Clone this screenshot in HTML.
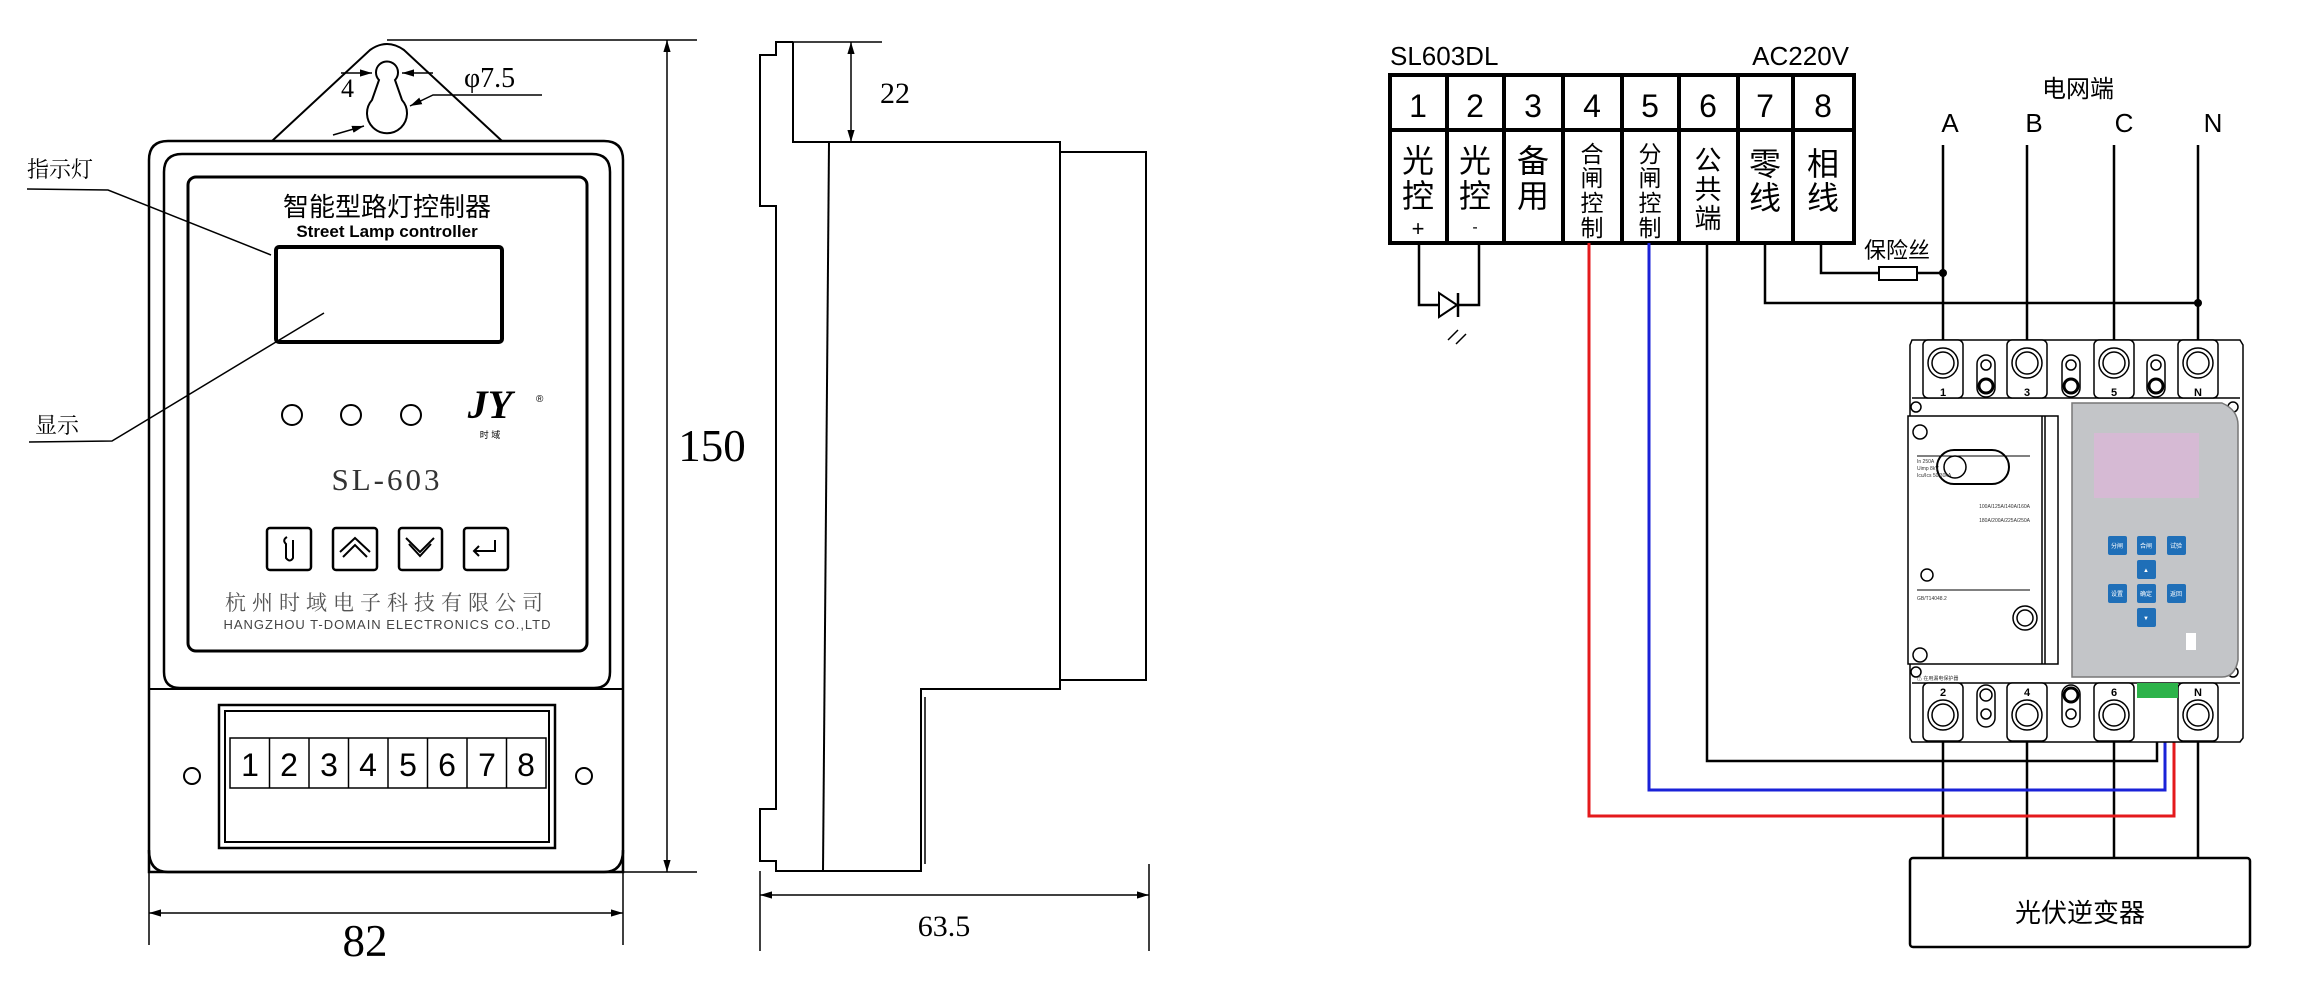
<!DOCTYPE html>
<html><head><meta charset="utf-8"><style>
html,body{margin:0;padding:0;background:#fff}
svg{display:block}
text{font-family:"Liberation Sans","Noto Sans CJK SC",sans-serif}
.serif{font-family:"Liberation Serif","Noto Serif CJK SC",serif}
</style></head><body>
<svg width="2320" height="1007" viewBox="0 0 2320 1007" xmlns="http://www.w3.org/2000/svg">
<defs>
<marker id="ar" viewBox="0 0 10 10" refX="10" refY="5" markerWidth="8" markerHeight="8" orient="auto-start-reverse"><path d="M0,2 L10,5 L0,8 z" fill="#000"/></marker>
</defs>
<g fill="none" stroke="#000" stroke-width="2">
<!-- hanger -->
<path d="M272,141 L370,50 Q387,38 404,50 L502,141"/>
<line x1="387" y1="40" x2="697" y2="40" stroke-width="1.5"/>
<path d="M379,80 A11,11 0 1 1 395,80 L402,100 A20,20 0 1 1 372,100 Z"/>
<!-- outer body -->
<path d="M149,160 Q149,141 168,141 L604,141 Q623,141 623,160 L623,872 L149,872 Z" stroke-width="2.5"/>
<path d="M164,672 L164,172 Q164,154 182,154 L592,154 Q610,154 610,172 L610,672 Q610,688 594,688 L180,688 Q164,688 164,672 Z" stroke-width="2.5"/>
<line x1="149" y1="689" x2="623" y2="689" stroke-width="2"/>
<path d="M149,850 Q149,872 168,872 L604,872 Q623,872 623,850" stroke-width="2.5"/>
<rect x="188" y="177" width="399" height="474" rx="8" stroke-width="3"/>
<rect x="276" y="247" width="226" height="95" rx="3" stroke-width="4"/>
<!-- leaders -->
<polyline points="27,189 108,190 271,255" stroke-width="1.5"/>
<polyline points="29,442 112,441 324,313" stroke-width="1.5"/>
<!-- LEDs -->
<circle cx="292" cy="415" r="10"/><circle cx="351" cy="415" r="10"/><circle cx="411" cy="415" r="10"/>
<!-- buttons -->
<rect x="267" y="528" width="44" height="42" rx="3" stroke-width="2.5"/>
<rect x="333" y="528" width="44" height="42" rx="3" stroke-width="2.5"/>
<rect x="399" y="528" width="43" height="42" rx="3" stroke-width="2.5"/>
<rect x="464" y="528" width="44" height="42" rx="3" stroke-width="2.5"/>
<path d="M287,537 Q282,540 286,544 L286,558 Q290,563 293,558 L293,540"/>
<polyline points="340,552 355,538 370,552"/><polyline points="343,557 355,545 367,557"/>
<polyline points="406,538 420,552 434,538"/><polyline points="409,544 420,556 431,544"/>
<polyline points="495,540 495,551 474,551"/><polyline points="479,546 474,551 479,556"/>
<!-- terminal block -->
<rect x="219" y="705" width="336" height="143" stroke-width="2.5"/>
<rect x="225" y="711" width="324" height="131"/>
<rect x="230" y="738" width="316" height="50" stroke-width="1.5"/>
<g stroke-width="1.5">
<line x1="269.5" y1="738" x2="269.5" y2="788"/><line x1="309" y1="738" x2="309" y2="788"/><line x1="348.5" y1="738" x2="348.5" y2="788"/><line x1="388" y1="738" x2="388" y2="788"/><line x1="427.5" y1="738" x2="427.5" y2="788"/><line x1="467" y1="738" x2="467" y2="788"/><line x1="506.5" y1="738" x2="506.5" y2="788"/>
</g>
<circle cx="192" cy="776" r="8"/><circle cx="584" cy="776" r="8"/>
<!-- dims left -->
<line x1="667" y1="40" x2="667" y2="872" stroke-width="1.5" marker-start="url(#ar)" marker-end="url(#ar)"/>
<line x1="623" y1="872" x2="697" y2="872" stroke-width="1.5"/>
<line x1="149" y1="913" x2="623" y2="913" stroke-width="1.5" marker-start="url(#ar)" marker-end="url(#ar)"/>
<line x1="149" y1="858" x2="149" y2="945" stroke-width="1.5"/><line x1="623" y1="858" x2="623" y2="945" stroke-width="1.5"/>
<line x1="341" y1="73" x2="372" y2="73" stroke-width="1.5" marker-end="url(#ar)"/>
<line x1="433" y1="73" x2="402" y2="73" stroke-width="1.5" marker-end="url(#ar)"/>
<polyline points="542,95 433,95 410,106" stroke-width="1.5" marker-end="url(#ar)"/>
<line x1="333" y1="135" x2="364" y2="126" stroke-width="1.5" marker-end="url(#ar)"/>
<!-- side view -->
<polyline points="793,42 776,42 776,55 760,55 760,206 776,206 776,809 760,809 760,861 776,861 776,871 921,871 921,689 1060,689 1060,142 793,142 793,42" stroke-width="2"/>
<line x1="793" y1="42" x2="882" y2="42" stroke-width="1.5"/>
<rect x="1060" y="152" width="86" height="528" stroke-width="2"/>
<line x1="829" y1="142" x2="823" y2="871" stroke-width="2"/>
<line x1="925" y1="697" x2="925" y2="864" stroke-width="1.5"/>
<line x1="851" y1="42" x2="851" y2="142" stroke-width="1.5" marker-start="url(#ar)" marker-end="url(#ar)"/>
<line x1="760" y1="895" x2="1149" y2="895" stroke-width="1.5" marker-start="url(#ar)" marker-end="url(#ar)"/>
<line x1="760" y1="871" x2="760" y2="951" stroke-width="1.5"/><line x1="1149" y1="864" x2="1149" y2="951" stroke-width="1.5"/>
</g>
<!-- left texts -->
<g fill="#000">
<text x="387" y="216" font-size="26" text-anchor="middle">智能型路灯控制器</text>
<text x="387" y="237" font-size="17" font-weight="bold" text-anchor="middle">Street Lamp controller</text>
<text x="27" y="177" font-size="22" class="serif">指示灯</text>
<text x="35" y="433" font-size="22" class="serif">显示</text>
<text x="387" y="490" font-size="31" text-anchor="middle" class="serif" fill="#333" letter-spacing="3">SL-603</text>
<text x="490" y="418" font-size="40" font-weight="bold" font-style="italic" text-anchor="middle" class="serif">JY</text>
<text x="490" y="438" font-size="9" text-anchor="middle">时 域</text>
<text x="536" y="402" font-size="10">®</text>
<text x="387" y="610" font-size="21" text-anchor="middle" fill="#555" class="serif" letter-spacing="6">杭州时域电子科技有限公司</text>
<text x="387" y="629" font-size="13" text-anchor="middle" fill="#444" textLength="327">HANGZHOU T-DOMAIN ELECTRONICS CO.,LTD</text>
<g font-size="32" text-anchor="middle">
<text x="250" y="776">1</text><text x="289" y="776">2</text><text x="329" y="776">3</text><text x="368" y="776">4</text><text x="408" y="776">5</text><text x="447" y="776">6</text><text x="487" y="776">7</text><text x="526" y="776">8</text>
</g>
<text x="712" y="461" font-size="45" text-anchor="middle" class="serif">150</text>
<text x="365" y="956" font-size="45" text-anchor="middle" class="serif">82</text>
<text x="341" y="97" font-size="26" class="serif">4</text>
<text x="464" y="87" font-size="28" class="serif">φ7.5</text>
<text x="880" y="103" font-size="30" class="serif">22</text>
<text x="944" y="936" font-size="30" text-anchor="middle" class="serif">63.5</text>
</g>

<!-- wiring diagram -->
<g fill="none" stroke="#000">
<rect x="1390" y="75" width="464" height="168" stroke-width="4"/>
<line x1="1390" y1="130" x2="1854" y2="130" stroke-width="4"/>
<g stroke-width="4">
<line x1="1447" y1="75" x2="1447" y2="243"/><line x1="1504" y1="75" x2="1504" y2="243"/><line x1="1563" y1="75" x2="1563" y2="243"/><line x1="1622" y1="75" x2="1622" y2="243"/><line x1="1679" y1="75" x2="1679" y2="243"/><line x1="1738" y1="75" x2="1738" y2="243"/><line x1="1793" y1="75" x2="1793" y2="243"/>
</g>
<g stroke-width="2.5">
<polyline points="1419,243 1419,305 1439,305"/>
<polyline points="1459,305 1479,305 1479,243"/>
<polyline points="1707,243 1707,761 2157,761 2157,693"/>
<polyline points="1765,243 1765,303 2198,303"/>
<polyline points="1821,243 1821,273 1879,273"/>
<line x1="1917" y1="273" x2="1943" y2="273"/>
<line x1="1943" y1="145" x2="1943" y2="340"/><line x1="2027" y1="145" x2="2027" y2="340"/><line x1="2114" y1="145" x2="2114" y2="340"/><line x1="2198" y1="145" x2="2198" y2="340"/>
<line x1="1943" y1="742" x2="1943" y2="858"/><line x1="2027" y1="742" x2="2027" y2="858"/><line x1="2114" y1="742" x2="2114" y2="858"/><line x1="2198" y1="742" x2="2198" y2="858"/>
</g>
<polyline points="1649,243 1649,790 2165,790 2165,696" stroke="#1a22d8" stroke-width="3"/>
<polyline points="1589,243 1589,816 2174,816 2174,696" stroke="#e41a1c" stroke-width="3"/>
<rect x="1879" y="267" width="38" height="13" stroke-width="2"/>
<path d="M1439,293 L1439,317 L1457,305 Z" stroke-width="2"/>
<line x1="1458" y1="293" x2="1458" y2="317" stroke-width="2.5"/>
<line x1="1458" y1="330" x2="1448" y2="340" stroke-width="1.5"/><line x1="1466" y1="334" x2="1456" y2="344" stroke-width="1.5"/>
<rect x="1910" y="858" width="340" height="89" rx="3" stroke-width="2.5"/>
</g>
<circle cx="1943" cy="273" r="4"/><circle cx="2198" cy="303" r="4"/>
<g fill="#000">
<text x="1390" y="65" font-size="26">SL603DL</text>
<text x="1849" y="65" font-size="26" text-anchor="end">AC220V</text>
<g font-size="32" text-anchor="middle">
<text x="1418" y="117">1</text><text x="1475" y="117">2</text><text x="1533" y="117">3</text><text x="1592" y="117">4</text><text x="1650" y="117">5</text><text x="1708" y="117">6</text><text x="1765" y="117">7</text><text x="1823" y="117">8</text>
<text x="1418" y="172">光</text><text x="1418" y="207">控</text>
<text x="1475" y="172">光</text><text x="1475" y="207">控</text>
<text x="1533" y="172">备</text><text x="1533" y="207">用</text>
<text x="1765" y="175">零</text><text x="1765" y="209">线</text>
<text x="1823" y="175">相</text><text x="1823" y="209">线</text>
</g>
<text x="1418" y="236" font-size="22" text-anchor="middle">+</text>
<text x="1475" y="232" font-size="16" text-anchor="middle">-</text>
<g font-size="23" text-anchor="middle">
<text x="1592" y="162">合</text><text x="1592" y="186">闸</text><text x="1592" y="211">控</text><text x="1592" y="236">制</text>
<text x="1650" y="162">分</text><text x="1650" y="186">闸</text><text x="1650" y="211">控</text><text x="1650" y="236">制</text>
</g>
<g font-size="27" text-anchor="middle">
<text x="1708" y="170">公</text><text x="1708" y="199">共</text><text x="1708" y="228">端</text>
</g>
<text x="1897" y="258" font-size="22" text-anchor="middle">保险丝</text>
<text x="2078" y="97" font-size="24" text-anchor="middle">电网端</text>
<g font-size="26" text-anchor="middle">
<text x="1950" y="132">A</text><text x="2034" y="132">B</text><text x="2124" y="132">C</text><text x="2213" y="132">N</text>
</g>
<text x="2080" y="922" font-size="26" text-anchor="middle">光伏逆变器</text>
</g>

<!-- breaker -->
<g stroke="#000" fill="#fff" stroke-width="1.5">
<path d="M1910,345 L1910,738 L1912,742 L2240,742 L2243,738 L2243,345 L2240,340 L1912,340 Z"/>
<line x1="1912" y1="398" x2="2240" y2="398"/>
<line x1="1912" y1="683" x2="2240" y2="683"/>
<g>
<rect x="1923" y="340" width="40" height="58" rx="5"/><rect x="2007" y="340" width="40" height="58" rx="5"/><rect x="2094" y="340" width="40" height="58" rx="5"/><rect x="2178" y="340" width="40" height="58" rx="5"/>
<circle cx="1943" cy="363" r="15"/><circle cx="1943" cy="363" r="11"/>
<circle cx="2027" cy="363" r="15"/><circle cx="2027" cy="363" r="11"/>
<circle cx="2114" cy="363" r="15"/><circle cx="2114" cy="363" r="11"/>
<circle cx="2198" cy="363" r="15"/><circle cx="2198" cy="363" r="11"/>
<rect x="1977" y="355" width="18" height="42" rx="9"/><circle cx="1986" cy="365" r="5"/><circle cx="1986" cy="386" r="7" stroke-width="3"/>
<rect x="2062" y="355" width="18" height="42" rx="9"/><circle cx="2071" cy="365" r="5"/><circle cx="2071" cy="386" r="7" stroke-width="3"/>
<rect x="2147" y="355" width="18" height="42" rx="9"/><circle cx="2156" cy="365" r="5"/><circle cx="2156" cy="386" r="7" stroke-width="3"/>
</g>
<g>
<rect x="1923" y="683" width="40" height="58" rx="5"/><rect x="2007" y="683" width="40" height="58" rx="5"/><rect x="2094" y="683" width="40" height="58" rx="5"/><rect x="2178" y="683" width="40" height="58" rx="5"/>
<circle cx="1943" cy="715" r="15"/><circle cx="1943" cy="715" r="11"/>
<circle cx="2027" cy="715" r="15"/><circle cx="2027" cy="715" r="11"/>
<circle cx="2114" cy="715" r="15"/><circle cx="2114" cy="715" r="11"/>
<circle cx="2198" cy="715" r="15"/><circle cx="2198" cy="715" r="11"/>
<rect x="1977" y="685" width="18" height="42" rx="9"/><circle cx="1986" cy="695" r="6"/><circle cx="1986" cy="714" r="5"/>
<rect x="2062" y="685" width="18" height="42" rx="9"/><circle cx="2071" cy="695" r="7" stroke-width="3"/><circle cx="2071" cy="714" r="5"/>
</g>
<rect x="1908" y="416" width="150" height="248"/>
<line x1="2042" y1="416" x2="2042" y2="664"/><line x1="2045" y1="416" x2="2045" y2="664"/>
<circle cx="1920" cy="432" r="7"/><circle cx="1920" cy="655" r="7"/>
<rect x="1937" y="450" width="72" height="34" rx="17" stroke-width="2"/>
<circle cx="1955" cy="467" r="11"/>
<circle cx="1927" cy="575" r="6"/>
<circle cx="2025" cy="618" r="12"/><circle cx="2025" cy="618" r="8"/>
<line x1="1917" y1="456" x2="2030" y2="456" stroke-width="1"/>
<line x1="1917" y1="590" x2="2030" y2="590" stroke-width="1"/>
<circle cx="2233" cy="407" r="5"/><circle cx="2233" cy="672" r="5"/><circle cx="1916" cy="407" r="5"/><circle cx="1916" cy="672" r="5"/>
<path d="M2072,403 L2222,403 Q2238,410 2238,425 L2238,660 Q2235,677 2222,677 L2072,677 Z" fill="#c3c5c8" stroke="#777"/>
</g>
<rect x="2094" y="433" width="105" height="65" fill="#d6bad4"/>
<g fill="#1f6fb8">
<rect x="2108" y="536" width="19" height="19" rx="2"/><rect x="2137" y="536" width="19" height="19" rx="2"/><rect x="2167" y="536" width="19" height="19" rx="2"/>
<rect x="2137" y="560" width="19" height="19" rx="2"/>
<rect x="2108" y="584" width="19" height="19" rx="2"/><rect x="2137" y="584" width="19" height="19" rx="2"/><rect x="2167" y="584" width="19" height="19" rx="2"/>
<rect x="2137" y="608" width="19" height="19" rx="2"/>
</g>
<rect x="2186" y="633" width="10" height="17" fill="#fff"/>
<rect x="2137" y="683" width="41" height="15" fill="#2db34a"/>
<g font-size="6" fill="#fff" text-anchor="middle">
<text x="2117" y="548">分闸</text><text x="2146" y="548">合闸</text><text x="2176" y="548">试验</text>
<text x="2146" y="572">▲</text><text x="2146" y="620">▼</text>
<text x="2117" y="596">设置</text><text x="2146" y="596">确定</text><text x="2176" y="596">返回</text>
</g>
<g font-size="11" font-weight="bold" text-anchor="middle" fill="#000">
<text x="1943" y="396">1</text><text x="2027" y="396">3</text><text x="2114" y="396">5</text><text x="2198" y="396">N</text>
<text x="1943" y="696">2</text><text x="2027" y="696">4</text><text x="2114" y="696">6</text><text x="2198" y="696">N</text>
</g>
<g font-size="5" fill="#333">
<text x="1917" y="463">In 250A</text><text x="1917" y="470">Uimp 8kV</text><text x="1917" y="477">Icu/Ics 50/30kA</text>
<text x="2030" y="508" text-anchor="end">100A/125A/140A/160A</text>
<text x="2030" y="522" text-anchor="end">180A/200A/225A/250A</text>
<text x="1917" y="600">GB/T14048.2</text>
<text x="1917" y="680">⚠ 在用漏电保护器</text>
</g>
</svg>
</body></html>
